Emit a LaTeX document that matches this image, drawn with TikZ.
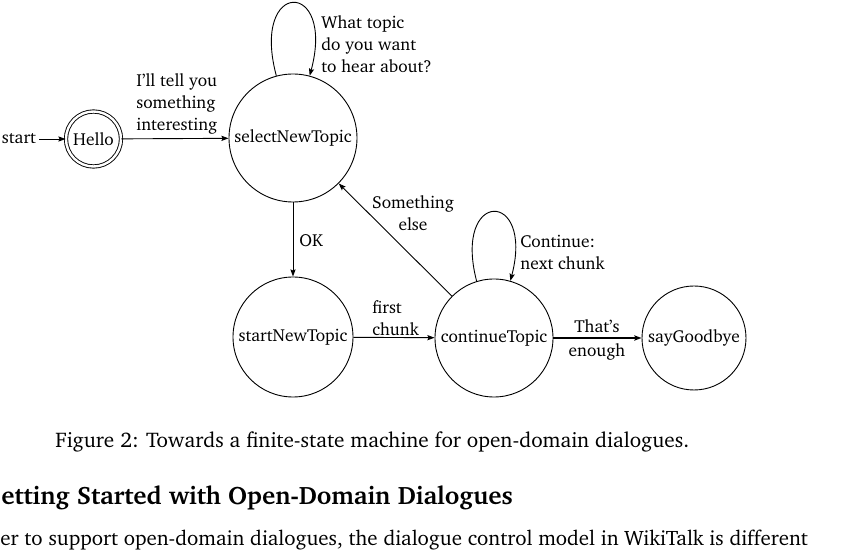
\documentclass[tikz,border=0pt]{standalone}
\IfFileExists{charter.sty}{\usepackage[T1]{fontenc}\usepackage{charter}}{}
\usetikzlibrary{arrows.meta}
\tikzset{
  state/.style={draw, circle, inner sep=0pt, line width=0.45pt, font=\fontsize{8.7}{11}\selectfont},
  lbl/.style={inner sep=0pt, font=\fontsize{8.7}{11}\selectfont},
  edge/.style={-{Stealth[length=3.6pt,width=2.6pt,inset=0.6pt]}, line width=0.45pt},
  thickedge/.style={edge, line width=0.9pt},
}
\begin{document}
\begin{tikzpicture}[x=0.5pt, y=-0.5pt]
\useasboundingbox (0,0) rectangle (843,551);
\clip (0,0) rectangle (843,551);
% states
\node[lbl, inner sep=1.5pt] (start) at (19,139) {start};
\node[state, double, double distance=1.2pt, minimum size=27.5pt] (hello) at (93.5,139) {Hello};
\node[state, minimum size=64pt] (sel) at (293,138) {selectNewTopic};
\node[state, minimum size=60pt] (snt) at (293,337) {startNewTopic};
\node[state, minimum size=59pt] (cont) at (494,338) {continueTopic};
\node[state, minimum size=52pt] (bye) at (694,338) {sayGoodbye};
% edges
\draw[edge] (start) -- (hello);
\draw[edge] (hello) -- (sel);
\draw[edge] (sel.105) .. controls +(-26,-97) and +(26,-97) .. (sel.75);
\draw[edge] (sel) -- (snt);
\draw[edge] (snt) -- (cont);
\draw[edge] (cont) -- (sel);
\draw[edge] (cont.107) .. controls +(-24,-92) and +(24,-92) .. (cont.74);
\draw[thickedge] (cont) -- (bye);
% labels
\node[lbl, anchor=west, align=left] (l1) at (136,104) {I'll tell you\\something\\interesting};
\node[lbl, anchor=west, align=left] (l2) at (321,44.5) {What topic\\do you want\\to hear about?};
\node[lbl, anchor=west] (l3) at (299,241) {OK};
\node[lbl, align=center] (l4) at (413,213) {Something\\else};
\node[lbl, anchor=west, align=left] (l5) at (372,318) {first\\chunk};
\node[lbl, anchor=west, align=left] (l6) at (520,252) {Continue:\\next chunk};
\node[lbl] (l7) at (597,326.5) {That's};
\node[lbl] (l8) at (597,351.5) {enough};
% caption and text
\node[inner sep=0pt, anchor=base west, font=\fontsize{10.6}{12}\selectfont] (cap) at (55,448) {Figure 2: Towards a finite-state machine for open-domain dialogues.};
\node[inner sep=0pt, anchor=base west, font=\fontsize{12.6}{14}\selectfont\bfseries] (head) at (1,505) {etting Started with Open-Domain Dialogues};
\node[inner sep=0pt, anchor=base west, font=\fontsize{10.45}{12}\selectfont] (body) at (0,546) {er to support open-domain dialogues, the dialogue control model in WikiTalk is different};
\end{tikzpicture}
\end{document}
